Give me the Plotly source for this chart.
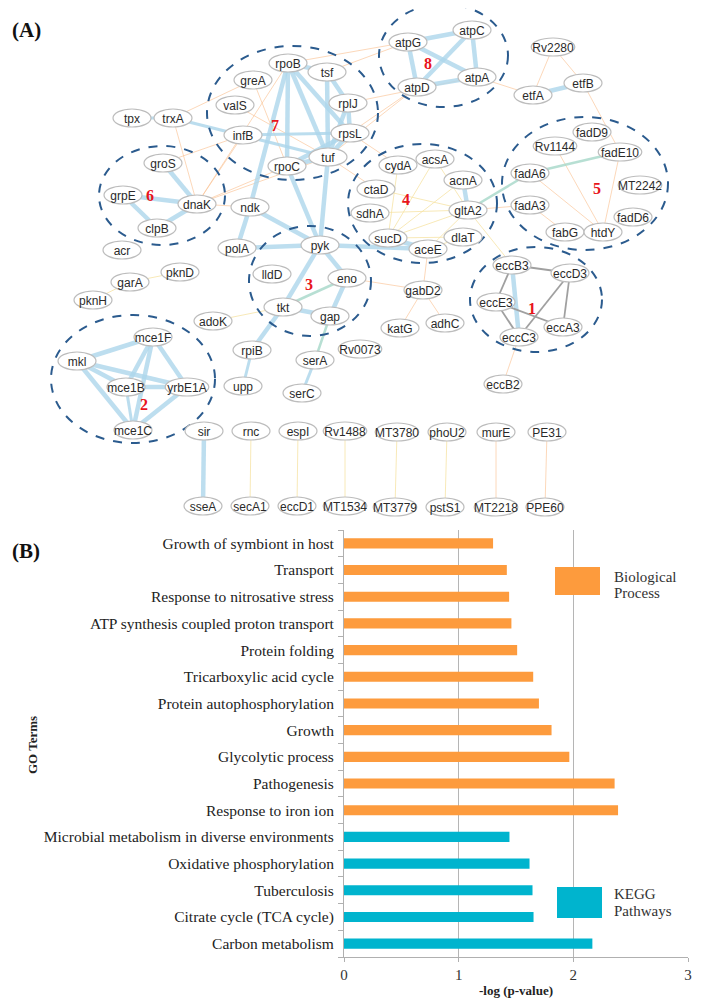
import plotly.graph_objects as go

# ---------------- Data: network (panel A) ----------------
node_names = ["tpx", "trxA", "greA", "rpoB", "tsf", "valS", "rplJ", "infB", "rpsL", "rpoC", "tuf",
              "groS", "grpE", "dnaK", "clpB", "ndk", "acr", "polA", "pyk",
              "atpG", "atpC", "atpA", "atpD", "Rv2280", "etfA", "etfB",
              "fadD9", "Rv1144", "fadE10", "fadA6", "MT2242", "fadA3", "fadD6", "fabG", "htdY",
              "cydA", "acsA", "acnA", "ctaD", "sdhA", "gltA2", "sucD", "dlaT", "aceE",
              "pknD", "garA", "pknH", "lldD", "eno", "tkt", "gap", "adoK",
              "mce1F", "mkl", "rpiB", "serA", "Rv0073", "mce1B", "yrbE1A", "upp", "serC", "mce1C",
              "sir", "rnc", "espI", "Rv1488", "MT3780", "phoU2", "murE", "PE31",
              "sseA", "secA1", "eccD1", "MT1534", "MT3779", "pstS1", "MT2218", "PPE60",
              "gabD2", "katG", "adhC", "eccB3", "eccD3", "eccE3", "eccA3", "eccC3", "eccB2"]
node_x = [132, 173, 253, 288, 327, 235, 348, 243, 350, 287, 328,
          163, 123, 197, 157, 250, 122, 237, 320,
          408, 472, 477, 417, 553, 533, 583,
          592, 555, 620, 530, 640, 530, 633, 565, 603,
          398, 435, 463, 376, 370, 468, 388, 463, 428,
          180, 130, 93, 272, 347, 283, 330, 213,
          153, 77, 252, 315, 360, 126, 187, 243, 302, 133,
          204, 251, 298, 345, 397, 447, 496, 547,
          203, 250, 297, 345, 395, 445, 496, 545,
          423, 400, 445, 512, 570, 496, 563, 519, 503]
node_y = [118, 118, 80, 63, 72, 105, 103, 135, 133, 166, 157,
          163, 195, 204, 228, 207, 250, 248, 245,
          42, 30, 77, 87, 47, 95, 83,
          132, 146, 152, 173, 185, 205, 217, 232, 232,
          165, 159, 180, 189, 213, 210, 238, 237, 249,
          272, 282, 300, 274, 278, 307, 316, 321,
          337, 361, 350, 360, 349, 387, 387, 386, 393, 430,
          431, 431, 431, 431, 432, 432, 432, 432,
          506, 506, 506, 506, 507, 507, 507, 507,
          290, 328, 323, 265, 273, 302, 327, 337, 384]

edge_blue = [("rpoB", "rpoC"), ("rpoB", "tuf"), ("rpoB", "rpsL"), ("rpoB", "tsf"), ("tsf", "tuf"),
             ("tsf", "rplJ"), ("rplJ", "rpsL"), ("rpsL", "tuf"), ("rpoC", "tuf"), ("rplJ", "tuf"),
             ("rpsL", "rpoC"), ("rpoB", "ndk"), ("rpoC", "pyk"), ("tuf", "pyk"),
             ("grpE", "dnaK"), ("grpE", "clpB"), ("groS", "dnaK"), ("dnaK", "clpB"),
             ("ndk", "pyk"), ("ndk", "polA"), ("polA", "pyk"),
             ("pyk", "eno"), ("pyk", "tkt"), ("tkt", "gap"), ("eno", "gap"), ("tkt", "rpiB"),
             ("pyk", "aceE"), ("sucD", "aceE"), ("acnA", "gltA2"),
             ("atpG", "atpC"), ("atpG", "atpD"), ("atpG", "atpA"), ("atpC", "atpA"), ("atpC", "atpD"),
             ("atpD", "atpA"), ("etfA", "etfB"),
             ("mkl", "mce1F"), ("mkl", "mce1B"), ("mkl", "yrbE1A"), ("mkl", "mce1C"), ("mce1F", "mce1B"),
             ("mce1F", "yrbE1A"), ("mce1F", "mce1C"), ("mce1B", "yrbE1A"), ("yrbE1A", "mce1C"),
             ("sir", "sseA"), ("eccB3", "eccC3")]
edge_blue_thin = [("tpx", "trxA"), ("trxA", "tuf"), ("infB", "rpsL"), ("rpiB", "upp"), ("serA", "serC"),
                  ("mce1B", "mce1C")]
edge_green = [("gltA2", "fadA6"), ("fadA6", "fadE10"), ("tkt", "eno"), ("gap", "serA")]
edge_orange = [("dnaK", "rpoC"), ("dnaK", "infB"), ("dnaK", "tuf"), ("dnaK", "rpoB"), ("dnaK", "trxA"),
               ("groS", "infB"), ("ndk", "dnaK"), ("trxA", "greA"), ("valS", "tuf"), ("greA", "rpoC"),
               ("atpG", "rpoB"), ("atpD", "tuf"), ("atpA", "rplJ"), ("atpD", "rpsL"), ("atpG", "tsf"),
               ("atpA", "etfA"), ("rpsL", "cydA"), ("tuf", "ctaD"),
               ("etfA", "Rv2280"), ("etfB", "Rv2280"), ("etfB", "fadE10"),
               ("Rv1144", "htdY"), ("fadE10", "htdY"), ("fadA3", "fabG"), ("fadA6", "htdY"),
               ("gltA2", "fadA3"), ("eccC3", "eccB2"), ("murE", "MT2218"), ("PE31", "PPE60"),
               ("gabD2", "katG"), ("gabD2", "adhC"), ("gabD2", "eno"), ("gabD2", "aceE")]
edge_yellow = [("sucD", "acsA"), ("sucD", "acnA"), ("sucD", "gltA2"), ("sucD", "dlaT"), ("sucD", "cydA"),
               ("sdhA", "gltA2"), ("ctaD", "gltA2"), ("aceE", "dlaT"), ("aceE", "gltA2"), ("acsA", "gltA2"),
               ("garA", "pknD"), ("garA", "pknH"), ("adoK", "tkt"),
               ("rnc", "secA1"), ("espI", "eccD1"), ("Rv1488", "MT1534"), ("MT3780", "MT3779"),
               ("phoU2", "pstS1"), ("eccB3", "gltA2")]
edge_gray = [("eccB3", "eccD3"), ("eccB3", "eccE3"), ("eccE3", "eccC3"), ("eccE3", "eccA3"),
             ("eccD3", "eccC3"), ("eccD3", "eccA3")]

cluster_ids = ["1", "2", "3", "4", "5", "6", "7", "8"]
cluster_x0 = [470, 51, 249, 348, 502, 99, 207, 379]
cluster_x1 = [602, 215, 371, 497, 668, 225, 378, 508]
cluster_y0 = [247, 315, 226, 144, 117, 146, 46, 4]
cluster_y1 = [352, 443, 336, 263, 250, 245, 180, 107]
cluster_label_x = [532, 144, 309, 406, 597, 150, 275, 428]
cluster_label_y = [308, 404, 284, 199, 188, 195, 125, 63]

# ---------------- Data: enrichment bars (panel B) ----------------
go_terms = ["Growth of symbiont in host", "Transport", "Response to nitrosative stress",
            "ATP synthesis coupled proton transport", "Protein folding", "Tricarboxylic acid cycle",
            "Protein autophosphorylation", "Growth", "Glycolytic process", "Pathogenesis",
            "Response to iron ion", "Microbial metabolism in diverse environments",
            "Oxidative phosphorylation", "Tuberculosis", "Citrate cycle (TCA cycle)", "Carbon metabolism"]
neg_log_p = [1.30, 1.42, 1.44, 1.46, 1.51, 1.65, 1.70, 1.81, 1.965, 2.36, 2.39,
             1.443, 1.618, 1.644, 1.653, 2.166]
term_group = ["Biological Process"] * 11 + ["KEGG Pathways"] * 5
legend_lines = {"Biological Process": ["Biological", "Process"], "KEGG Pathways": ["KEGG", "Pathways"]}
x_ticks = [0, 1, 2, 3]

# ---------------- Figure ----------------
# The page body has an 8px margin, so the figure is sized/offset to land on the 701x1006 window.
OFF = 8
W, H = 701 - OFF, 1006 - 2 * OFF
NET_BOTTOM = 525
pos = {n: (x, y) for n, x, y in zip(node_names, node_x, node_y)}


def px(x):
    return (x - OFF) / W


def py(y):
    return 1 - (y - OFF) / H


fig = go.Figure()

edge_styles = [
    (edge_yellow, "rgba(245,225,160,0.75)", 1),
    (edge_orange, "rgba(250,190,140,0.6)", 1),
    (edge_green, "rgba(165,215,200,0.8)", 2.5),
    (edge_blue_thin, "rgba(175,215,235,0.85)", 3),
    (edge_blue, "rgba(172,214,235,0.8)", 4.5),
    (edge_gray, "rgb(160,160,160)", 1.8),
]
for edges, col, wd in edge_styles:
    ex, ey = [], []
    for a, b in edges:
        ex += [pos[a][0], pos[b][0], None]
        ey += [pos[a][1], pos[b][1], None]
    fig.add_trace(go.Scatter(x=ex, y=ey, mode="lines", line=dict(color=col, width=wd),
                             hoverinfo="skip", showlegend=False, xaxis="x2", yaxis="y2"))

shapes = []
# dashed cluster circles
for x0, x1, y0, y1 in zip(cluster_x0, cluster_x1, cluster_y0, cluster_y1):
    shapes.append(dict(type="circle", xref="x2", yref="y2", x0=x0, x1=x1, y0=y0, y1=y1,
                       line=dict(color="#2B5B8E", width=2, dash="dash"), fillcolor="rgba(0,0,0,0)"))
# nodes
for n, x, y in zip(node_names, node_x, node_y):
    w = max(38, 6.6 * len(n) + 4)
    shapes.append(dict(type="circle", xref="x2", yref="y2", x0=x - w / 2, x1=x + w / 2,
                       y0=y - 9, y1=y + 9, line=dict(color="#BDBDBD", width=1.2), fillcolor="white",
                       label=dict(text=n, font=dict(family="Liberation Sans, Arial", size=12, color="#2a2a2a"),
                                  textposition="middle center")))

annotations = []
for cid, lx, ly in zip(cluster_ids, cluster_label_x, cluster_label_y):
    annotations.append(dict(x=lx, y=ly, xref="x2", yref="y2", text="<b>%s</b>" % cid, showarrow=False,
                            xanchor="center", yanchor="middle",
                            font=dict(family="Liberation Serif, Times New Roman", size=16, color="#E8141B")))

# bars
colors = {"Biological Process": "#FD9B3D", "KEGG Pathways": "#00B4CE"}
for grp in ["Biological Process", "KEGG Pathways"]:
    ys = [t for t, g in zip(go_terms, term_group) if g == grp]
    xs = [v for v, g in zip(neg_log_p, term_group) if g == grp]
    fig.add_trace(go.Bar(y=ys, x=xs, orientation="h", marker=dict(color=colors[grp], line=dict(width=0)),
                         width=0.38, showlegend=False, name=grp, xaxis="x", yaxis="y"))

serif = "Liberation Serif, Times New Roman, serif"
legend_box = {"Biological Process": (555, 600, 567, 595), "KEGG Pathways": (557, 602, 887, 918)}
legend_text_y = {"Biological Process": (577, 593), "KEGG Pathways": (894, 911)}
for grp, (bx0, bx1, by0, by1) in legend_box.items():
    shapes.append(dict(type="rect", xref="paper", yref="paper", x0=px(bx0), x1=px(bx1), y0=py(by1),
                       y1=py(by0), fillcolor=colors[grp], line=dict(width=0), layer="above"))
    for line_txt, ty in zip(legend_lines[grp], legend_text_y[grp]):
        annotations.append(dict(x=px(612), y=py(ty), xref="paper", yref="paper", xanchor="left",
                                yanchor="middle", text=line_txt, showarrow=False,
                                font=dict(family=serif, size=15, color="#333")))

annotations += [
    dict(x=px(516), y=py(990), xref="paper", yref="paper", xanchor="center", yanchor="middle",
         text="<b>-log (p-value)</b>", showarrow=False, font=dict(family=serif, size=13, color="#222")),
    dict(x=px(32), y=py(745), xref="paper", yref="paper", xanchor="center", yanchor="middle",
         text="<b>GO Terms</b>", showarrow=False, textangle=-90, font=dict(family=serif, size=13, color="#222")),
    dict(x=px(10), y=py(30), xref="paper", yref="paper", xanchor="left", yanchor="middle",
         text="<b>(A)</b>", showarrow=False, font=dict(family=serif, size=21, color="#111")),
    dict(x=px(10), y=py(551), xref="paper", yref="paper", xanchor="left", yanchor="middle",
         text="<b>(B)</b>", showarrow=False, font=dict(family=serif, size=21, color="#111")),
]

fig.update_layout(
    template="none",
    width=W, height=H, margin=dict(l=0, r=0, t=0, b=0, pad=0),
    paper_bgcolor="white", plot_bgcolor="rgba(0,0,0,0)",
    shapes=shapes, annotations=annotations, bargap=0.62,
    xaxis=dict(domain=[px(344), px(688)], range=[0, 3], tickvals=x_ticks, showgrid=True,
               gridcolor="#B5B5B5", gridwidth=1, zeroline=False, showline=True, linecolor="#B0B0B0",
               ticks="outside", ticklen=4, tickcolor="#B0B0B0", automargin=False,
               tickfont=dict(family=serif, size=15, color="#333"), anchor="y", fixedrange=True),
    yaxis=dict(domain=[py(957), py(530)], categoryorder="array", categoryarray=go_terms[::-1],
               showline=True, linecolor="#B0B0B0", ticks="outside", ticklen=5, tickcolor="#B0B0B0",
               tickson="boundaries", ticklabelstandoff=6, automargin=False, zeroline=False,
               tickfont=dict(family=serif, size=15.5, color="#222"), anchor="x", showgrid=False),
    xaxis2=dict(domain=[0, 1], range=[OFF, OFF + W], visible=False, anchor="y2", automargin=False),
    yaxis2=dict(domain=[py(NET_BOTTOM), 1], range=[NET_BOTTOM, OFF], visible=False, anchor="x2",
                automargin=False),
)

fig.write_html("out.html")
